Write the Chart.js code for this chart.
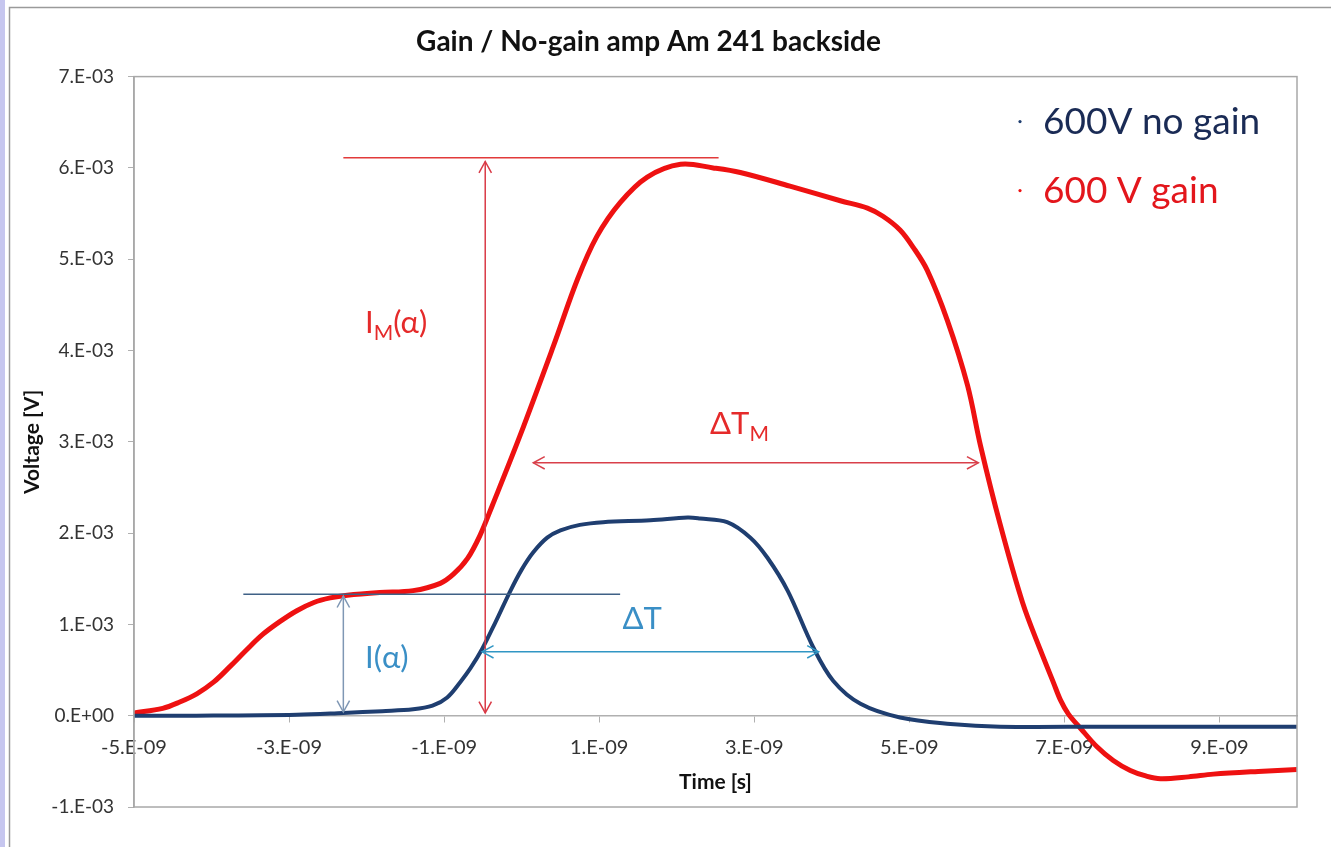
<!DOCTYPE html>
<html>
<head>
<meta charset="utf-8">
<title>Gain / No-gain amp Am 241 backside</title>
<script src="https://cdn.jsdelivr.net/npm/chart.js@4.4.1/dist/chart.umd.min.js"></script>
<style>
  html, body { margin: 0; padding: 0; background: #fff; }
  #wrap { width: 1333px; height: 847px; position: relative; }
</style>
</head>
<body>
<div id="wrap"><canvas id="pulseChart"></canvas></div>
<script>
// time in ns (1.E-09 s), voltage in mV (1.E-03 V)
var noGainTime = [-5.0, -4.2, -2.9, -2.3, -1.8, -1.4, -1.15, -0.96, -0.79, -0.66, -0.51, -0.34, -0.15, 0.0, 0.15, 0.33, 0.50, 0.75, 1.05, 1.66, 2.14, 2.30, 2.65, 2.95, 3.17, 3.43, 3.76, 4.02, 4.37, 4.88, 5.53, 6.17, 7.5, 10.0]
var noGainVolt = [0.0, 0.0, 0.01, 0.03, 0.05, 0.07, 0.11, 0.20, 0.37, 0.52, 0.73, 1.02, 1.36, 1.60, 1.79, 1.95, 2.03, 2.09, 2.12, 2.14, 2.17, 2.16, 2.12, 1.95, 1.73, 1.37, 0.75, 0.38, 0.13, -0.02, -0.09, -0.12, -0.12, -0.12]

var gainTime = [-5.0, -4.63, -4.41, -4.19, -3.97, -3.76, -3.55, -3.34, -3.12, -2.90, -2.68, -2.47, -2.25, -1.83, -1.40, -1.05, -0.88, -0.70, -0.54, -0.38, -0.02, 0.41, 0.72, 0.97, 1.27, 1.62, 2.05, 2.47, 2.82, 3.46, 4.11, 4.46, 4.66, 4.88, 5.05, 5.23, 5.49, 5.75, 5.92, 6.17, 6.46, 6.69, 6.86, 6.95, 7.05, 7.21, 7.42, 7.63, 7.85, 8.05, 8.24, 8.60, 8.92, 9.50, 10.0]
var gainVolt = [0.03, 0.08, 0.15, 0.24, 0.37, 0.54, 0.72, 0.89, 1.03, 1.15, 1.24, 1.29, 1.32, 1.35, 1.37, 1.45, 1.55, 1.72, 1.97, 2.30, 3.07, 4.05, 4.78, 5.25, 5.62, 5.90, 6.04, 6.00, 5.95, 5.80, 5.64, 5.56, 5.47, 5.32, 5.13, 4.88, 4.33, 3.62, 2.95, 2.10, 1.24, 0.72, 0.36, 0.17, 0.02, -0.14, -0.34, -0.49, -0.60, -0.66, -0.69, -0.67, -0.64, -0.61, -0.59]

var xTicks = [-5, -3, -1, 1, 3, 5, 7, 9]
var yTicks = [-1, 0, 1, 2, 3, 4, 5, 6, 7]

var seriesNames = ['600V no gain', '600 V gain']
var seriesColors = ['#1f3e70', '#ee1111']

function toPoints(xs, ys) {
  return xs.map((x, i) => ({x: x, y: ys[i]}))
}

function arrowHead(ctx, x, y, dx, dy) {
  var a = Math.atan2(dy, dx)
  var s = 13
  ctx.beginPath()
  ctx.moveTo(x - s * Math.cos(a - 0.5), y - s * Math.sin(a - 0.5))
  ctx.lineTo(x, y)
  ctx.lineTo(x - s * Math.cos(a + 0.5), y - s * Math.sin(a + 0.5))
  ctx.stroke()
}

function segment(chart, x1, y1, x2, y2, color, width, heads) {
  var sx = chart.scales.x, sy = chart.scales.y, ctx = chart.ctx
  var px1 = sx.getPixelForValue(x1), py1 = sy.getPixelForValue(y1)
  var px2 = sx.getPixelForValue(x2), py2 = sy.getPixelForValue(y2)
  ctx.save()
  ctx.strokeStyle = color
  ctx.lineWidth = width
  ctx.beginPath()
  ctx.moveTo(px1, py1)
  ctx.lineTo(px2, py2)
  ctx.stroke()
  if (heads) {
    arrowHead(ctx, px1, py1, px1 - px2, py1 - py2)
    arrowHead(ctx, px2, py2, px2 - px1, py2 - py1)
  }
  ctx.restore()
}

// main text + optional subscript + tail, placed at a data position (baseline)
function label(chart, x, y, main, sub, tail, color) {
  var ctx = chart.ctx
  var px = chart.scales.x.getPixelForValue(x)
  var py = chart.scales.y.getPixelForValue(y)
  ctx.save()
  ctx.fillStyle = color
  ctx.textBaseline = 'alphabetic'
  ctx.textAlign = 'left'
  ctx.font = '31px Lato'
  ctx.fillText(main, px, py)
  px += ctx.measureText(main).width
  if (sub) {
    ctx.font = '21px Lato'
    ctx.fillText(sub, px, py + 7)
    px += ctx.measureText(sub).width
  }
  if (tail) {
    ctx.font = '31px Lato'
    ctx.fillText(tail, px, py)
  }
  ctx.restore()
}

var framePlugin = {
  id: 'frame',
  beforeDraw(chart) {
    var ctx = chart.ctx
    ctx.save()
    ctx.fillStyle = '#c6c6ef'
    ctx.fillRect(0, 0, 5, chart.height)
    ctx.strokeStyle = '#9a9a9a'
    ctx.lineWidth = 1.5
    ctx.beginPath()
    ctx.moveTo(9.5, chart.height)
    ctx.lineTo(9.5, 7.5)
    ctx.lineTo(chart.width - 2, 7.5)
    ctx.stroke()
    ctx.restore()
  },
  afterDraw(chart) {
    var a = chart.chartArea, ctx = chart.ctx
    ctx.save()
    ctx.strokeStyle = '#a8a8a8'
    ctx.lineWidth = 1.5
    ctx.strokeRect(a.left, a.top, a.right - a.left, a.bottom - a.top)
    ctx.restore()
  }
}

var markupPlugin = {
  id: 'markup',
  afterDatasetsDraw(chart) {
    // peak level and height of the gain pulse
    segment(chart, -2.30, 6.11, 2.54, 6.11, '#e23a3a', 1.5, false)
    segment(chart, -0.47, 6.07, -0.47, 0.03, '#d93a46', 1.5, true)
    // plateau level of the first step
    segment(chart, -3.59, 1.33, 1.27, 1.33, '#3f6186', 1.5, false)
    segment(chart, -2.30, 1.31, -2.30, 0.04, '#7f97b4', 1.5, true)
    // widths
    segment(chart, -0.51, 0.70, 3.83, 0.70, '#3196c4', 1.5, true)
    segment(chart, 0.15, 2.77, 5.89, 2.77, '#d9404a', 1.5, true)

    label(chart, -2.02, 4.19, 'I', 'M', '(\u03b1)', '#e52a2a')
    label(chart, 2.43, 3.08, '\u0394T', 'M', '', '#e52a2a')
    label(chart, -2.02, 0.52, 'I(\u03b1)', '', '', '#3a8fc6')
    label(chart, 1.30, 0.95, '\u0394T', '', '', '#3a8fc6')

    // legend
    var a = chart.chartArea, ctx = chart.ctx
    ctx.save()
    ctx.textBaseline = 'middle'
    ctx.textAlign = 'left'
    ctx.font = '37px Lato'
    var rows = [a.top + 45, a.top + 114]
    var textColors = ['#1a2b55', '#e3161c']
    chart.data.datasets.forEach((ds, i) => {
      ctx.fillStyle = ds.borderColor
      ctx.beginPath()
      ctx.arc(a.right - 277, rows[i], 1.6, 0, Math.PI * 2)
      ctx.fill()
      ctx.fillStyle = textColors[i]
      ctx.fillText(ds.label, a.right - 254, rows[i])
    })
    ctx.restore()
  }
}

Chart.defaults.font.family = 'Lato'
Chart.defaults.color = '#333'

var ctx = document.getElementById('pulseChart')
var pulseChart = new Chart(ctx, {
  type: 'line',
  data: {
    datasets: [{
      label: seriesNames[0],
      data: toPoints(noGainTime, noGainVolt),
      borderColor: seriesColors[0],
      borderWidth: 4,
      pointRadius: 0,
      tension: 0.35
    }, {
      label: seriesNames[1],
      data: toPoints(gainTime, gainVolt),
      borderColor: seriesColors[1],
      borderWidth: 5,
      pointRadius: 0,
      tension: 0.35
    }]
  },
  plugins: [framePlugin, markupPlugin],
  options: {
    responsive: true,
    maintainAspectRatio: false,
    animation: false,
    layout: { padding: { left: 0, top: 0, right: 36, bottom: 40 } },
    plugins: {
      legend: { display: false },
      tooltip: { enabled: false },
      title: {
        display: true,
        text: 'Gain / No-gain amp Am 241 backside',
        color: '#111',
        font: { size: 28, weight: 'bold' },
        padding: { top: 25, bottom: 18 }
      }
    },
    scales: {
      x: {
        type: 'linear',
        position: { y: 0 },
        min: -5,
        max: 10,
        afterBuildTicks: s => { s.ticks = xTicks.map(v => ({value: v})) },
        ticks: {
          padding: 14,
          font: { size: 20 },
          color: '#333',
          maxRotation: 0,
          callback: v => v + '.E-09'
        },
        grid: { drawOnChartArea: false, tickLength: 6, color: '#b0b0b0' },
        border: { color: '#b0b0b0', width: 1.5 },
        title: {
          display: true,
          text: 'Time [s]',
          color: '#111',
          font: { size: 21, weight: 'bold' },
          padding: { top: -4, bottom: 0 }
        }
      },
      y: {
        type: 'linear',
        min: -1,
        max: 7,
        afterBuildTicks: s => { s.ticks = yTicks.map(v => ({value: v})) },
        afterFit: s => { s.width = 134 },
        ticks: {
          padding: 14,
          font: { size: 19 },
          color: '#333',
          callback: v => v === 0 ? '0.E+00' : v + '.E-03'
        },
        grid: { drawOnChartArea: false, tickLength: 6, color: '#b0b0b0' },
        border: { color: '#a8a8a8', width: 1.5 },
        title: {
          display: true,
          text: 'Voltage [V]',
          color: '#111',
          font: { size: 21, weight: 'bold' },
          padding: { top: 20, bottom: 0 }
        }
      }
    }
  }
})
</script>
</body>
</html>
